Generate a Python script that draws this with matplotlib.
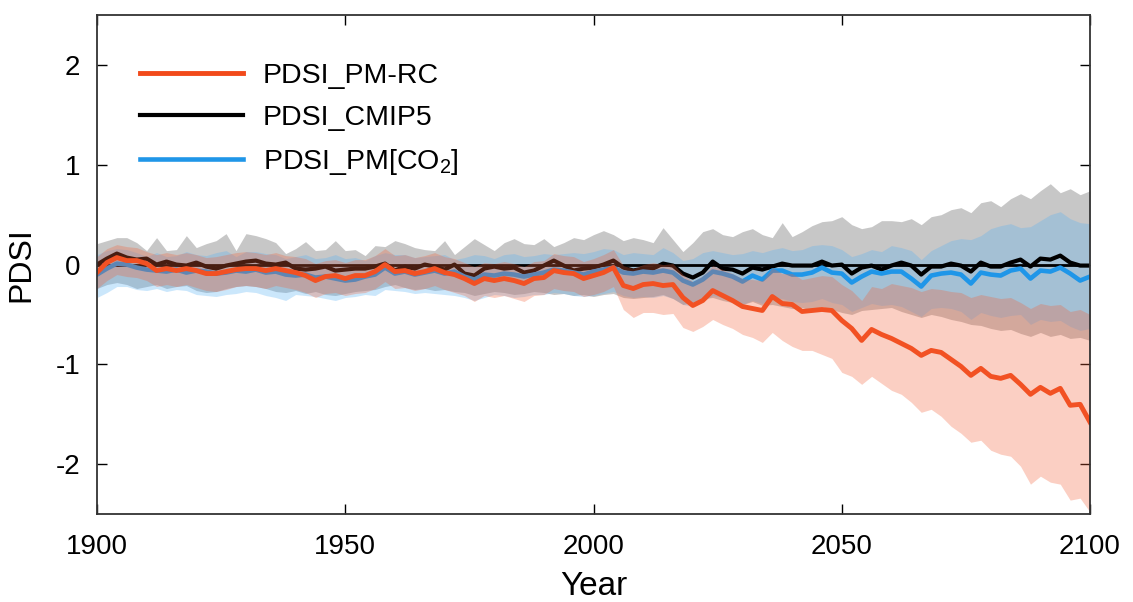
import numpy as np
import matplotlib
matplotlib.use('Agg')
import matplotlib.pyplot as plt

plt.rcParams['font.family'] = ['Liberation Sans', 'DejaVu Sans']
plt.rcParams['mathtext.fontset'] = 'custom'
plt.rcParams['mathtext.rm'] = 'Liberation Sans'
plt.rcParams['axes.unicode_minus'] = False

# years sampled every 2 years, 1900-2100
years = np.arange(1900, 2101, 2)

# PDSI_PM-RC (orange) mean and band
pm_rc = [
    -0.08, 0.02, 0.07, 0.04, 0.04, 0.01, -0.06, -0.04, -0.06, -0.04,
    -0.06, -0.09, -0.09, -0.07, -0.05, -0.04, -0.04, -0.06, -0.04, -0.06,
    -0.08, -0.11, -0.16, -0.12, -0.11, -0.14, -0.11, -0.11, -0.07, 0.00,
    -0.07, -0.06, -0.09, -0.07, -0.04, -0.08, -0.10, -0.14, -0.19, -0.14,
    -0.16, -0.14, -0.16, -0.19, -0.14, -0.13, -0.06, -0.08, -0.09, -0.14,
    -0.11, -0.08, -0.03, -0.21, -0.24, -0.20, -0.19, -0.21, -0.20, -0.33,
    -0.41, -0.36, -0.26, -0.31, -0.36, -0.42, -0.44, -0.46, -0.32, -0.39,
    -0.40, -0.47, -0.46, -0.45, -0.46, -0.56, -0.64, -0.76, -0.65, -0.70,
    -0.74, -0.79, -0.84, -0.91, -0.86, -0.88, -0.95, -1.02, -1.11, -1.04,
    -1.12, -1.14, -1.11, -1.20, -1.30, -1.23, -1.29, -1.24, -1.41, -1.40,
    -1.58]
pm_rc_hi = [
    0.08, 0.16, 0.20, 0.18, 0.17, 0.13, 0.10, 0.12, 0.10, 0.12,
    0.10, 0.07, 0.08, 0.10, 0.12, 0.13, 0.12, 0.10, 0.12, 0.09,
    0.08, 0.06, 0.01, 0.04, 0.05, 0.02, 0.05, 0.05, 0.09, 0.16,
    0.09, 0.10, 0.07, 0.09, 0.12, 0.08, 0.06, 0.02, -0.02, 0.02,
    0.01, 0.03, 0.01, -0.02, 0.03, 0.04, 0.11, 0.09, 0.08, 0.03,
    0.06, 0.10, 0.15, -0.01, -0.04, 0.00, 0.02, 0.00, 0.01, -0.10,
    -0.17, -0.11, -0.01, -0.05, -0.09, -0.14, -0.15, -0.16, -0.03, -0.09,
    -0.09, -0.15, -0.13, -0.11, -0.12, -0.20, -0.26, -0.36, -0.22, -0.24,
    -0.19, -0.21, -0.23, -0.27, -0.24, -0.25, -0.27, -0.28, -0.33, -0.30,
    -0.32, -0.34, -0.33, -0.38, -0.44, -0.39, -0.41, -0.40, -0.47, -0.45,
    -0.50]
pm_rc_lo = [
    -0.24, -0.16, -0.10, -0.12, -0.13, -0.16, -0.22, -0.20, -0.22, -0.20,
    -0.23, -0.26, -0.27, -0.25, -0.22, -0.21, -0.22, -0.24, -0.21, -0.23,
    -0.25, -0.28, -0.33, -0.29, -0.28, -0.31, -0.29, -0.28, -0.24, -0.17,
    -0.24, -0.23, -0.26, -0.24, -0.21, -0.25, -0.28, -0.31, -0.37, -0.31,
    -0.33, -0.31, -0.34, -0.37, -0.31, -0.30, -0.24, -0.26, -0.27, -0.32,
    -0.30, -0.27, -0.22, -0.45, -0.53, -0.48, -0.48, -0.50, -0.49, -0.63,
    -0.67, -0.62, -0.55, -0.60, -0.64, -0.70, -0.73, -0.78, -0.68, -0.76,
    -0.82, -0.86, -0.86, -0.90, -0.94, -1.08, -1.12, -1.20, -1.12, -1.19,
    -1.26, -1.30, -1.38, -1.48, -1.45, -1.52, -1.62, -1.69, -1.78, -1.76,
    -1.86, -1.90, -1.92, -2.02, -2.20, -2.12, -2.18, -2.20, -2.36, -2.34,
    -2.48]

# PDSI_CMIP5 (black) mean and band
cmip5 = [
    0.00, 0.06, 0.11, 0.07, 0.05, 0.06, 0.00, 0.03, 0.00, -0.01,
    0.02, -0.02, -0.04, -0.01, 0.01, 0.03, 0.04, 0.01, 0.00, 0.02,
    -0.04, -0.05, -0.04, -0.02, -0.06, -0.05, -0.04, -0.04, -0.02, 0.01,
    -0.06, -0.02, -0.04, 0.00, -0.02, -0.05, 0.00, -0.09, -0.11, -0.04,
    -0.02, -0.04, -0.03, -0.08, -0.06, -0.01, 0.04, -0.01, -0.06, -0.04,
    -0.03, 0.00, 0.04, -0.03, -0.06, -0.04, -0.04, 0.01, -0.01, -0.09,
    -0.13, -0.08, 0.03, -0.04, -0.05, -0.09, -0.03, -0.05, -0.02, 0.01,
    -0.01, -0.01, -0.01, 0.03, -0.01, 0.00, -0.09, -0.03, -0.01, -0.05,
    -0.01, 0.02, -0.01, -0.10, -0.02, -0.02, 0.01, -0.01, -0.07, 0.02,
    -0.02, -0.02, 0.02, 0.05, -0.02, 0.06, 0.05, 0.09, 0.02, -0.01,
    -0.01]
cmip5_hi = [
    0.21, 0.24, 0.27, 0.27, 0.22, 0.14, 0.27, 0.14, 0.15, 0.29,
    0.17, 0.21, 0.24, 0.31, 0.14, 0.31, 0.29, 0.26, 0.22, 0.11,
    0.16, 0.23, 0.14, 0.15, 0.24, 0.14, 0.15, 0.09, 0.19, 0.18,
    0.24, 0.21, 0.17, 0.15, 0.14, 0.24, 0.10, 0.18, 0.26, 0.20,
    0.14, 0.22, 0.26, 0.21, 0.20, 0.26, 0.18, 0.22, 0.27, 0.25,
    0.30, 0.34, 0.30, 0.24, 0.27, 0.25, 0.22, 0.37, 0.25, 0.13,
    0.22, 0.33, 0.36, 0.30, 0.28, 0.33, 0.36, 0.30, 0.27, 0.42,
    0.28, 0.33, 0.39, 0.43, 0.44, 0.48, 0.40, 0.36, 0.38, 0.44,
    0.44, 0.43, 0.46, 0.40, 0.48, 0.50, 0.55, 0.57, 0.52, 0.62,
    0.64, 0.58, 0.66, 0.71, 0.66, 0.74, 0.81, 0.72, 0.76, 0.70,
    0.74]
cmip5_lo = [
    -0.24, -0.20, -0.18, -0.20, -0.24, -0.22, -0.20, -0.24, -0.22, -0.21,
    -0.26, -0.28, -0.27, -0.24, -0.22, -0.21, -0.22, -0.24, -0.27, -0.28,
    -0.26, -0.29, -0.27, -0.30, -0.31, -0.29, -0.27, -0.26, -0.25, -0.22,
    -0.20, -0.23, -0.25, -0.24, -0.26, -0.25, -0.27, -0.28, -0.31, -0.29,
    -0.27, -0.28, -0.30, -0.29, -0.27, -0.28, -0.30, -0.29, -0.31, -0.30,
    -0.32, -0.30, -0.29, -0.33, -0.34, -0.33, -0.32, -0.30, -0.34, -0.40,
    -0.38, -0.34, -0.33, -0.36, -0.38, -0.40, -0.37, -0.41, -0.40, -0.42,
    -0.44, -0.43, -0.46, -0.42, -0.45, -0.48, -0.50, -0.46, -0.45, -0.44,
    -0.43, -0.47, -0.50, -0.53, -0.50, -0.52, -0.55, -0.57, -0.60, -0.61,
    -0.64, -0.66, -0.65, -0.69, -0.72, -0.68, -0.72, -0.70, -0.74, -0.73,
    -0.76]

# PDSI_PM[CO2] (blue) mean and band
pm_co2 = [
    -0.10, -0.04, 0.01, 0.00, -0.03, -0.05, -0.06, -0.07, -0.05, -0.08,
    -0.06, -0.07, -0.09, -0.08, -0.06, -0.07, -0.05, -0.08, -0.07, -0.10,
    -0.11, -0.10, -0.13, -0.12, -0.14, -0.16, -0.15, -0.12, -0.10, -0.03,
    -0.09, -0.07, -0.10, -0.08, -0.06, -0.09, -0.07, -0.12, -0.15, -0.10,
    -0.11, -0.09, -0.10, -0.12, -0.10, -0.08, -0.05, -0.06, -0.08, -0.10,
    -0.07, -0.05, -0.03, -0.08, -0.09, -0.07, -0.08, -0.06, -0.08, -0.16,
    -0.20, -0.15, -0.07, -0.09, -0.12, -0.17, -0.11, -0.15, -0.06, -0.06,
    -0.10, -0.10, -0.08, -0.03, -0.08, -0.09, -0.18, -0.12, -0.07, -0.09,
    -0.07, -0.07, -0.14, -0.22, -0.11, -0.09, -0.08, -0.10, -0.19, -0.08,
    -0.10, -0.11, -0.06, -0.04, -0.14, -0.06, -0.07, -0.03, -0.09, -0.16,
    -0.12]
pm_co2_hi = [
    0.10, 0.14, 0.16, 0.15, 0.12, 0.08, 0.12, 0.08, 0.09, 0.13,
    0.10, 0.09, 0.12, 0.14, 0.08, 0.13, 0.13, 0.11, 0.10, 0.06,
    0.08, 0.10, 0.06, 0.07, 0.10, 0.06, 0.07, 0.04, 0.09, 0.12,
    0.10, 0.10, 0.07, 0.08, 0.09, 0.10, 0.05, 0.07, 0.10, 0.09,
    0.06, 0.10, 0.11, 0.08, 0.09, 0.11, 0.10, 0.11, 0.12, 0.11,
    0.13, 0.16, 0.15, 0.10, 0.12, 0.11, 0.10, 0.17, 0.12, 0.04,
    0.06, 0.12, 0.14, 0.12, 0.10, 0.11, 0.14, 0.12, 0.15, 0.17,
    0.14, 0.15, 0.19, 0.20, 0.19, 0.15, 0.08, 0.11, 0.15, 0.13,
    0.19, 0.17, 0.14, 0.05, 0.14, 0.19, 0.24, 0.26, 0.25, 0.29,
    0.36, 0.39, 0.41, 0.37, 0.38, 0.44, 0.50, 0.53, 0.46, 0.42,
    0.41]
pm_co2_lo = [
    -0.33, -0.28, -0.22, -0.22, -0.25, -0.26, -0.24, -0.27, -0.25, -0.26,
    -0.30, -0.31, -0.32, -0.30, -0.29, -0.27, -0.28, -0.31, -0.33, -0.36,
    -0.30, -0.31, -0.32, -0.34, -0.36, -0.33, -0.32, -0.30, -0.31, -0.25,
    -0.26, -0.27, -0.29, -0.28, -0.29, -0.30, -0.31, -0.33, -0.36, -0.33,
    -0.30, -0.31, -0.33, -0.32, -0.30, -0.30, -0.28, -0.29, -0.31, -0.32,
    -0.31, -0.29, -0.27, -0.31, -0.33, -0.32, -0.33, -0.31, -0.34, -0.40,
    -0.42, -0.37, -0.31, -0.33, -0.36, -0.40, -0.36, -0.39, -0.33, -0.34,
    -0.37, -0.38, -0.37, -0.34, -0.38, -0.40, -0.47, -0.43, -0.39, -0.41,
    -0.40, -0.42, -0.47, -0.52, -0.44, -0.43, -0.44, -0.47, -0.55, -0.48,
    -0.51, -0.53, -0.51, -0.50, -0.60, -0.55, -0.57, -0.56, -0.62, -0.66,
    -0.64]

legend_labels = ['PDSI_PM-RC', 'PDSI_CMIP5', 'PDSI_PM[CO$_2$]']

c_orange = '#f24a1a'
c_black = '#000000'
c_blue = '#1f96e8'

fig = plt.figure(figsize=(11.33, 6.02), dpi=100)
ax = fig.add_axes([0.0856, 0.146, 0.8765, 0.829])

# gray and blue bands sit under the lines
ax.fill_between(years, cmip5_lo, cmip5_hi, color='#484848', alpha=0.3, lw=0, zorder=1)
ax.fill_between(years, pm_co2_lo, pm_co2_hi, color='#55b0f5', alpha=0.3, lw=0, zorder=1)

ax.axhline(0, color='black', lw=2.0, zorder=2)
l_k, = ax.plot(years, cmip5, color=c_black, lw=3.0, zorder=3, label=legend_labels[1])
l_b, = ax.plot(years, pm_co2, color=c_blue, lw=3.3, zorder=3, label=legend_labels[2])
l_o, = ax.plot(years, pm_rc, color=c_orange, lw=3.5, zorder=3, label=legend_labels[0])

# orange band is drawn over the lines (tints them brown early on)
ax.fill_between(years, pm_rc_lo, pm_rc_hi, color='#f2623a', alpha=0.3, lw=0, zorder=4)

ax.set_xlim(1900, 2100)
ax.set_ylim(-2.5, 2.5)
ax.set_xticks([1900, 1950, 2000, 2050, 2100])
ax.set_yticks([-2, -1, 0, 1, 2])
ax.tick_params(direction='in', length=7, width=1, labelsize=20,
               top=True, right=True, pad=14)
ax.tick_params(axis='y', pad=12)
for s in ax.spines.values():
    s.set_color('#333333')
    s.set_linewidth(1.3)
    s.set_zorder(5)
ax.set_xlabel('Year', fontsize=24, labelpad=8)
ax.set_ylabel('PDSI', fontsize=23, labelpad=14)

ax.legend([l_o, l_k, l_b], [legend_labels[0], legend_labels[1], legend_labels[2]],
          loc='upper left', bbox_to_anchor=(0.018, 0.955), frameon=False,
          fontsize=20.5, handlelength=3.6, handletextpad=0.7, labelspacing=0.56)

plt.savefig('out.png', dpi=100)
